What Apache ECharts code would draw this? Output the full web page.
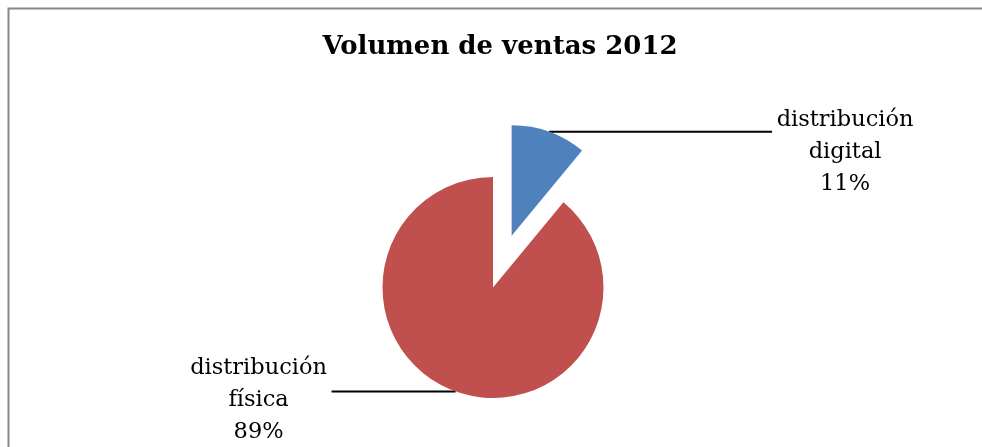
<!DOCTYPE html>
<html>
<head>
<meta charset="utf-8">
<script src="https://cdn.jsdelivr.net/npm/echarts@6/dist/echarts.min.js"></script>
<style>html,body{margin:0;padding:0;background:#fff;}#c{width:982px;height:447px;}</style>
</head>
<body>
<div id="c"></div>
<script>
const titleText = 'Volumen de ventas 2012';
const categories = ['distribución\ndigital', 'distribución\nfísica'];
const values = [11, 89];
const colors = ['#4F81BD', '#C0504D'];

const chart = echarts.init(document.getElementById('c'));
chart.setOption({
  animation: false,
  backgroundColor: '#fff',
  title: {
    text: titleText,
    left: 495,
    top: 29,
    textAlign: 'center',
    textStyle: { fontFamily: 'DejaVu Serif', fontWeight: 'bold', fontSize: 26, color: '#000' }
  },
  graphic: [{
    type: 'rect', silent: true,
    shape: { x: 8.5, y: 8.5, width: 990, height: 460 },
    style: { fill: 'none', stroke: '#878787', lineWidth: 2 }
  }],
  series: [{
    type: 'pie',
    center: [493, 287.5],
    radius: 110.5,
    startAngle: 90,
    clockwise: true,
    selectedMode: 'single',
    selectedOffset: 55,
    avoidLabelOverlap: false,
    data: categories.map((n, i) => ({
      name: n, value: values[i], selected: i === 0,
      itemStyle: { color: colors[i] },
      select: { itemStyle: { color: colors[i], borderWidth: 0 } },
      label: i === 0 ? { padding: [40, 0, 0, 0] } : { padding: [18, 0, 0, 0] },
      labelLine: i === 0 ? { length: 0, length2: 223 } : { length: 0, length2: 124 }
    })),
    itemStyle: { borderWidth: 0 },
    label: {
      show: true,
      position: 'outside',
      formatter: (p) => p.name.split('\n').map(s => '{a|' + s + '}').join('\n') + '\n{a|' + Math.round(p.percent) + '%}',
      rich: { a: { width: 140, align: 'center', fontFamily: 'DejaVu Serif', fontSize: 22.5, lineHeight: 32, color: '#000' } },
      distanceToLabelLine: 3
    },
    labelLine: { show: true, smooth: false, lineStyle: { color: '#000', width: 2 } },
    emphasis: { disabled: true }
  }]
});
</script>
</body>
</html>
